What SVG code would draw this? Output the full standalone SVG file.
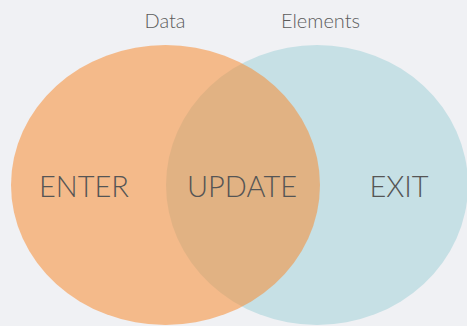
<svg xmlns="http://www.w3.org/2000/svg" width="467" height="326" viewBox="0 0 467 326">
<style>
.lbl{font-family:Lato,"Open Sans","Liberation Sans",sans-serif;font-weight:300;fill:#555555;text-anchor:middle}
.big{font-size:29px}
.small{font-size:20px;fill:#5c5c5c}
</style>
<rect width="467" height="326" fill="#f0f1f4"/>
<g id="elements">
<ellipse cx="317" cy="185" rx="151" ry="140" fill="#c6e0e5"/>
</g>
<g id="data">
<ellipse cx="165.5" cy="185" rx="154.5" ry="140" fill="#f78c33" fill-opacity="0.55"/>
</g>
<g id="titles">
<text class="lbl small" x="165" y="28">Data</text>
<text class="lbl small" x="320.5" y="28">Elements</text>
</g>
<g id="enter"><text class="lbl big" x="84" y="197">ENTER</text></g>
<g id="update"><text class="lbl big" x="242" y="197">UPDATE</text></g>
<g id="exit"><text class="lbl big" x="399" y="197">EXIT</text></g>
</svg>
